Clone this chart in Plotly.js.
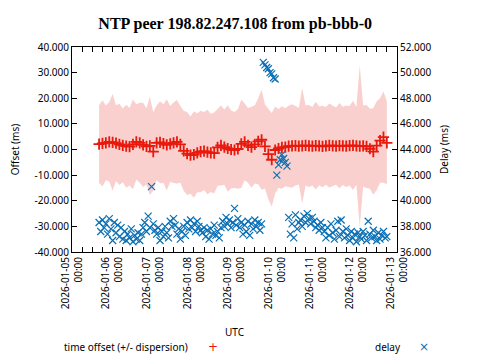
<!DOCTYPE html>
<html>
<head>
<meta charset="utf-8">
<script src="https://cdn.plot.ly/plotly-3.0.1.min.js"></script>
<style>html,body{margin:0;padding:0;background:#fff;}#chart{width:480px;height:360px;}</style>
</head>
<body>
<div id="chart"></div>
<script>
// ---- data ----
const chartTitle = 'NTP peer 198.82.247.108 from pb-bbb-0';
const offsetStart = '2026-01-05 16:00';   // first offset sample
const offsetStepHours = 2;                // sampling interval of offset samples
const offsetMs = [
  2.1, 2.4, 2.6, 3.0, 2.8, 2.5, 2.0, 1.6, 1.3, 1.1, 2.0, 3.0, 2.6, 1.8, 1.2, 1.4, -0.8, 2.6, 2.8, 2.3, 1.8, 2.2, 2.6, 3.0, 2.0,
  -0.5, -1.6, -2.2, -2.0, -1.3, -0.8, -0.6, -1.0, -1.3, -1.4,
  0.8, 1.6, 0.9, 0.4, 0.0, -0.2, 0.2, 2.2, 3.0, 1.6, 0.9, 2.0, 3.2, 3.8, 1.2, -1.8, -4.0, -0.2, 0.4, 0.8, 0.9, 1.3,
  1.4, 1.5, 1.3, 1.4, 1.6, 1.4, 1.3, 1.5, 1.4, 1.2, 1.4, 1.6, 1.4, 1.3, 1.5, 1.4, 1.3, 1.5, 1.6, 1.4, 1.3, 1.4,
  1.2, 0.3, -0.8, 1.5, 3.5, 4.8, 2.6
];
const dispersionMs = [
  15.2, 16.8, 14.6, 15.5, 18.9, 14.8, 15.9, 14.4, 16.2, 15.1, 17.5, 14.7, 15.6, 16.4, 14.9, 19.2, 15.3, 14.6, 16.0, 15.4, 17.8, 14.8, 15.7, 16.3, 15.0,
  15.6, 16.2, 15.1, 16.8, 15.4, 15.9, 15.2, 16.5, 15.3, 15.8,
  14.9, 15.6, 14.7, 16.9, 15.2, 14.8, 15.5, 17.2, 15.0, 14.6, 15.8, 15.3,
  16.8, 19.5, 16.4, 17.6, 18.2, 17.0,
  15.4, 16.1, 15.2, 15.8, 16.3, 15.5, 15.0, 22.5, 15.6, 16.0, 15.3, 17.1, 15.4, 15.9, 15.2, 16.4, 15.7, 15.1, 16.6, 15.3,
  15.9, 15.5, 17.4, 15.2, 31.5, 15.8, 16.2, 15.6, 16.9, 17.3, 16.5, 17.8, 16.2
];
const delayStart = '2026-01-05 16:00';
const delayStepHours = 1;
const delayMs = [
  38.3, 37.6, 38.5, 37.9, 38.2, 37.4, 38.6,
  37.8, 36.9, 38.3, 37.5, 38.1, 37.2, 37.9,
  37.0, 37.6, 36.9, 37.4, 37.1, 37.8, 36.8, 37.3, 37.0, 37.5, 36.9, 37.4,
  37.9, 38.3, 37.6, 38.8, 37.9, 41.1, 38.2, 37.7,
  37.4, 37.9, 36.9, 37.6, 37.2, 38.0, 37.5, 37.1,
  38.4, 38.0, 38.6, 38.1,
  37.4, 37.8, 37.0, 37.6, 38.0, 37.3,
  38.3, 37.8, 38.5, 37.9, 38.2, 37.6, 38.4, 38.0, 37.7,
  37.5, 37.9, 37.2, 37.7, 37.0, 37.8, 37.4, 38.1, 37.3, 37.6, 37.1, 37.9,
  38.4, 38.0, 38.7, 38.2, 38.5, 37.9, 38.3, 39.4, 38.1, 38.6,
  37.9, 38.3, 37.4, 38.1, 37.6, 38.4, 37.3, 38.2, 37.8, 38.5, 38.0, 38.3, 37.7, 38.2,
  50.8, 50.6, 50.4, 50.3, 50.0, 49.9, 49.6, 49.5,
  42.0, 42.8, 43.2, 43.6, 43.3, 43.0, 42.7,
  38.7, 37.4, 38.2, 37.1, 38.9, 37.8, 38.3,
  38.5, 38.0, 38.8, 38.3, 39.0, 38.6, 38.2, 38.7, 38.4, 37.9,
  38.1, 37.7, 38.3, 37.9,
  37.6, 37.1, 37.9, 37.3, 38.2, 37.5, 37.0, 37.7, 38.4, 37.2, 38.5, 37.6, 37.1, 37.8,
  37.3, 36.9, 37.6, 37.1, 37.4, 36.8, 37.5, 37.2, 37.0, 37.6, 37.3, 36.9, 38.4, 37.4, 37.1, 37.7, 37.2, 36.9, 37.5, 37.0, 37.3, 37.6, 37.1, 37.2
];
const xRange = ['2026-01-05 00:00', '2026-01-13 00:00'];
const offsetTicks = [-40, -30, -20, -10, 0, 10, 20, 30, 40];
const delayTicks = [36, 38, 40, 42, 44, 46, 48, 50, 52];
const offsetLabel = 'time offset (+/- dispersion)';
const delayLabel = 'delay';

// ---- helpers ----
function pad(n){ return (n < 10 ? '0' : '') + n; }
function sampleTimes(start, stepHours, n){
  const t0 = Date.parse(start.replace(' ', 'T') + ':00Z');
  const out = [];
  for (let i = 0; i < n; i++) {
    const d = new Date(t0 + i * stepHours * 3600000);
    out.push(d.getUTCFullYear() + '-' + pad(d.getUTCMonth() + 1) + '-' + pad(d.getUTCDate()) + ' ' +
             pad(d.getUTCHours()) + ':' + pad(d.getUTCMinutes()));
  }
  return out;
}
const offsetTimes = sampleTimes(offsetStart, offsetStepHours, offsetMs.length);
const delayTimes = sampleTimes(delayStart, delayStepHours, delayMs.length);
const upper = offsetMs.map((v, i) => v + dispersionMs[i]);
const lower = offsetMs.map((v, i) => v - dispersionMs[i]);

const RED = '#e8190c', BLUE = '#0a6fb4', BAND = '#f9d0ce';
const FONT = 'Noto Sans, Open Sans, DejaVu Sans, sans-serif';

const traces = [
  {
    x: offsetTimes.concat(offsetTimes.slice().reverse()),
    y: upper.concat(lower.slice().reverse()),
    type: 'scatter', mode: 'lines', fill: 'toself', fillcolor: BAND,
    line: {width: 0, color: BAND}, hoverinfo: 'skip', showlegend: false, yaxis: 'y'
  },
  {
    x: offsetTimes, y: offsetMs, type: 'scatter', mode: 'markers', name: offsetLabel,
    marker: {symbol: 'cross-thin-open', size: 8, color: RED, line: {color: RED, width: 1.8}},
    showlegend: false, yaxis: 'y'
  },
  {
    x: delayTimes, y: delayMs, type: 'scatter', mode: 'markers', name: delayLabel,
    marker: {symbol: 'x-thin-open', size: 7, color: BLUE, line: {color: BLUE, width: 1.2}},
    showlegend: false, yaxis: 'y2'
  }
];

const axisCommon = {
  showline: true, linecolor: '#000', linewidth: 1, ticks: 'inside', ticklen: 5, tickwidth: 1,
  tickcolor: '#000', showgrid: false, zeroline: false, tickfont: {family: FONT, size: 10, color: '#000'}
};

const layout = {
  width: 480, height: 360,
  margin: {l: 72, r: 83, t: 47, b: 108, pad: 0},
  paper_bgcolor: '#fff', plot_bgcolor: '#fff',
  font: {family: FONT, size: 10, color: '#000'},
  showlegend: false,
  title: {text: chartTitle, font: {family: 'Liberation Serif, DejaVu Serif, serif', size: 16, weight: 'bold', color: '#000'},
          x: 0.49, xanchor: 'center', y: 0.935, yanchor: 'middle'},
  xaxis: Object.assign({}, axisCommon, {
    type: 'date', range: xRange, tick0: xRange[0], dtick: 86400000,
    tickformat: '%Y-%m-%d<br>%H:%M', tickangle: -90, mirror: 'allticks',
    minor: {dtick: 6 * 3600000, ticks: 'inside', ticklen: 3, tickcolor: '#000', showgrid: false},
    title: {text: 'UTC', font: {family: FONT, size: 10}, standoff: 20}
  }),
  yaxis: Object.assign({}, axisCommon, {
    range: [offsetTicks[0], offsetTicks[offsetTicks.length - 1]],
    tickmode: 'array', tickvals: offsetTicks, ticktext: offsetTicks.map(v => v.toFixed(3)),
    title: {text: 'Offset (ms)', font: {family: FONT, size: 10}, standoff: 13}
  }),
  yaxis2: Object.assign({}, axisCommon, {
    overlaying: 'y', side: 'right',
    range: [delayTicks[0], delayTicks[delayTicks.length - 1]],
    tickmode: 'array', tickvals: delayTicks, ticktext: delayTicks.map(v => v.toFixed(3)),
    title: {text: 'Delay (ms)', font: {family: FONT, size: 10}, standoff: 10}
  }),
  annotations: [
    {xref: 'paper', yref: 'paper', x: (62 - 72) / 325, y: -(347 - 252) / 205, xanchor: 'left', yanchor: 'middle',
     text: offsetLabel, showarrow: false, font: {family: FONT, size: 10, color: '#000'}},
    {xref: 'paper', yref: 'paper', x: (213 - 72) / 325, y: -(347 - 252) / 205, xanchor: 'center', yanchor: 'middle',
     text: '+', showarrow: false, font: {family: 'DejaVu Sans, sans-serif', size: 12, color: RED}},
    {xref: 'paper', yref: 'paper', x: (403 - 72) / 325, y: -(347 - 252) / 205, xanchor: 'right', yanchor: 'middle',
     text: delayLabel, showarrow: false, font: {family: FONT, size: 10, color: '#000'}},
    {xref: 'paper', yref: 'paper', x: (424 - 72) / 325, y: -(347 - 252) / 205, xanchor: 'center', yanchor: 'middle',
     text: '×', showarrow: false, font: {family: 'DejaVu Sans, sans-serif', size: 12, color: BLUE}}
  ]
};

Plotly.newPlot('chart', traces, layout, {staticPlot: true, displayModeBar: false});
</script>
</body>
</html>
